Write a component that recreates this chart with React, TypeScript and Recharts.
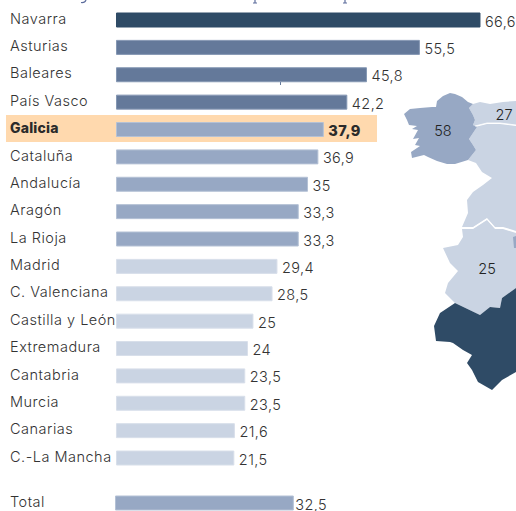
import React from 'react';
import { BarChart, Bar, Cell, XAxis, YAxis, LabelList } from 'recharts';

const regions = ['Navarra', 'Asturias', 'Baleares', 'País Vasco', 'Galicia', 'Cataluña', 'Andalucía', 'Aragón', 'La Rioja', 'Madrid', 'C. Valenciana', 'Castilla y León', 'Extremadura', 'Cantabria', 'Murcia', 'Canarias', 'C.-La Mancha'];
const values = [66.6, 55.5, 45.8, 42.2, 37.9, 36.9, 35, 33.3, 33.3, 29.4, 28.5, 25, 24, 23.5, 23.5, 21.6, 21.5];
const totalLabel = 'Total';
const totalValue = 32.5;
const mapLabels = ['58', '27', '25'];

const FONT = 'Inter, sans-serif';
const DARK = '#2f4b66';
const MID = '#64799a';
const SOFT = '#97a8c4';
const LIGHT = '#cad4e3';
const HIGHLIGHT = 'Galicia';
const MAX_X = 73.2;

const rows = regions.map((region, i) => ({ region, value: values[i] }));
const totalRow = [{ region: totalLabel, value: totalValue }];

const colorFor = (v: number) => {
	if (v > 60) return DARK;
	if (v > 40) return MID;
	if (v > 30) return SOFT;
	return LIGHT;
};

const strokeFor = (v: number) => {
	if (v > 60) return DARK;
	if (v > 40) return '#8497b3';
	if (v > 30) return '#b4c1d5';
	return '#d8dfea';
};

const fmt = (v: number) => String(v).replace('.', ',');

const CategoryTick = ({ y, payload }: any) => {
	const bold = payload.value === HIGHLIGHT;
	return (
		<text x={10} y={y - 1.5} dominantBaseline="central" fontFamily={FONT} fontSize={bold ? 14 : 14.5} letterSpacing={bold ? 0.2 : 0.5} fontWeight={bold ? 800 : 300} fill={bold ? '#2b2b2b' : '#333'}>
			{payload.value}
		</text>
	);
};

const ValueLabel = ({ x, y, width, height, value, gap = 5 }: any) => {
	const bold = value === values[regions.indexOf(HIGHLIGHT)];
	return (
		<text x={x + width + gap} y={y + height / 2 + 1} dominantBaseline="central" fontFamily={FONT} fontSize={14.5} letterSpacing={0.4} fontWeight={bold ? 800 : 300} fill={bold ? '#2b2b2b' : '#333'}>
			{fmt(value)}
		</text>
	);
};

// outline of the map, page coordinates
const galicia = '404,114 410,109 420,108 432,107 436,107 437,101 443,96 450,93 455,94 462,97 468,102 473,104 469,108 473,115 475,120 473,125 477,127 469,139 473,145 476,150 468,160 455,164 447,164 437,161 428,157 424,155 420,156 412,158 411,152 420,146 415,145 419,138 413,139 418,130 412,129 417,126 409,125 407,120';
const asturias = '473,104 480,102 490,104 503,102 516,101 516,125 500,123 487,123 475,126 473,125 475,120 473,115 469,108';
const castilla = '475,127 487,124 500,124 516,126 516,231 513,230 503,227 495,227 487,218 473,227 462,227 468,213 467,200 473,192 483,185 492,178 482,172 476,163 468,160 476,150 473,145 469,139 477,127';
const extremadura = '462,229 473,229 487,220 495,229 503,229 516,233 516,288 502,298 500,308 490,307 480,315 455,303 445,293 448,283 458,271 450,263 443,248 458,245 463,237';
const andalucia = '516,288 502,298 500,308 490,307 480,315 455,303 440,313 434,326 436,341 450,342 453,343 463,350 472,355 467,363 472,370 478,382 492,390 502,380 516,372';
const enclave = '513,237 516,236 516,248 514,248';

const MapLayer = () => (
	<svg width={516} height={511} style={{ position: 'absolute', left: 0, top: 0 }}>
		<polygon points={castilla} fill={LIGHT} />
		<polygon points={asturias} fill={LIGHT} />
		<polygon points={extremadura} fill={LIGHT} />
		<polygon points={andalucia} fill={DARK} />
		<polygon points={galicia} fill={SOFT} />
		<polygon points={enclave} fill={SOFT} />
		<polyline points="475,126 487,123 500,123 516,125" fill="none" stroke="#ffffff" strokeWidth={0.8} />
		<polyline points="462,228 473,228 487,219 495,228 503,228 513,231" fill="none" stroke="#ffffff" strokeWidth={0.8} />
		<g fontFamily={FONT} fontSize={14.5} fontWeight={300} fill="#222" textAnchor="middle" dominantBaseline="central">
			<text x={443} y={130}>{mapLabels[0]}</text>
			<text x={504} y={114}>{mapLabels[1]}</text>
			<text x={487} y={268}>{mapLabels[2]}</text>
		</g>
		{/* bottom of the cropped headline and a stray tick */}
		<g stroke="#5c6c9c" strokeWidth={1.2} fill="none">
			<path d="M81,2.5 Q85,3 86,0" />
			<path d="M255,0 L255,3 M253,3 L257,3" />
			<path d="M345,0 L345,3 M343,3 L347,3" />
		</g>
		<line x1={280.5} x2={280.5} y1={82} y2={85} stroke={MID} strokeWidth={1} />
	</svg>
);

export default function App() {
	return (
		<div style={{ position: 'absolute', left: 0, top: 0, width: 516, height: 511, overflow: 'hidden', background: '#fff' }}>
			<div style={{ position: 'absolute', left: 6, top: 115, width: 371, height: 27, background: '#ffd9ae' }} />
			<MapLayer />
			<div style={{ position: 'absolute', left: 0, top: 0 }}>
				<BarChart width={516} height={511} layout="vertical" data={rows} margin={{ top: 6, right: 0, bottom: 39.6, left: 0 }} barSize={14}>
					<XAxis type="number" domain={[0, MAX_X]} hide />
					<YAxis type="category" dataKey="region" width={116.5} interval={0} axisLine={false} tickLine={false} tick={<CategoryTick />} />
					<Bar dataKey="value" isAnimationActive={false}>
						{rows.map((row) => (
							<Cell key={row.region} fill={colorFor(row.value)} stroke={strokeFor(row.value)} />
						))}
						<LabelList dataKey="value" content={<ValueLabel />} />
					</Bar>
				</BarChart>
			</div>
			<div style={{ position: 'absolute', left: 0, top: 491 }}>
				<BarChart width={516} height={23} layout="vertical" data={totalRow} margin={{ top: 0, right: 0, bottom: 0, left: 0 }} barSize={14}>
					<XAxis type="number" domain={[0, MAX_X]} hide />
					<YAxis type="category" dataKey="region" width={115.5} interval={0} axisLine={false} tickLine={false} tick={<CategoryTick />} />
					<Bar dataKey="value" fill={SOFT} stroke="#b4c1d5" isAnimationActive={false}>
						<LabelList dataKey="value" content={<ValueLabel gap={2} />} />
					</Bar>
				</BarChart>
			</div>
		</div>
	);
}
